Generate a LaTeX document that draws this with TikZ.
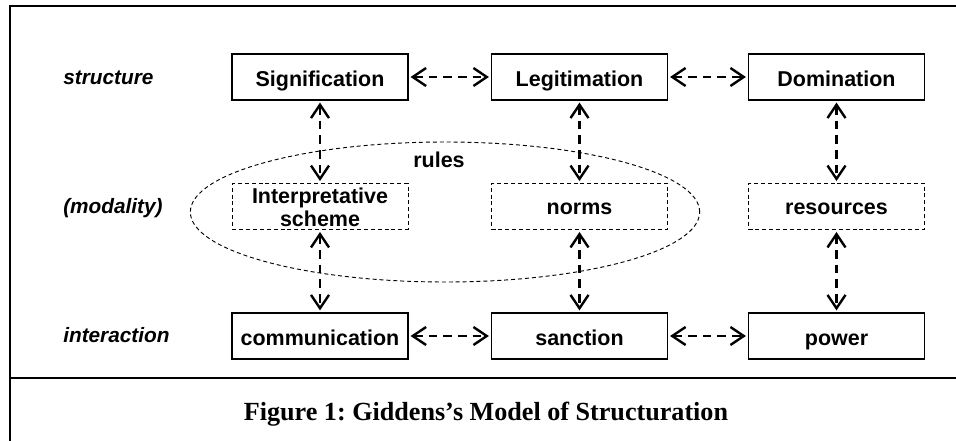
\documentclass[tikz,border=0pt]{standalone}
\usepackage{fontspec}
\setmainfont{Liberation Sans}
\newfontfamily\capfont{Liberation Serif}
\usetikzlibrary{arrows.meta,shapes.geometric}
\frenchspacing
\begin{document}
\begin{tikzpicture}[x=0.75pt,y=-0.75pt,
  boxfont/.style={font=\bfseries\fontsize{16.1}{18}\selectfont},
  boxtext/.style={boxfont, align=center, inner sep=0pt,
                  minimum width=132pt, minimum height=34.5pt},
  solidbox/.style={boxtext, draw, line width=0.9pt, text height=17.5pt, text depth=3.3pt},
  dashbox/.style={boxtext, draw, line width=0.7pt, dash pattern=on 3pt off 2.2pt,
                  text height=15pt, text depth=3.3pt},
  link/.style={line width=1.8pt, dash pattern=on 6.5pt off 4.5pt,
     {Straight Barb[length=10pt,width=13.5pt]}-{Straight Barb[length=10pt,width=13.5pt]},
     shorten <=1.5pt, shorten >=1.5pt},
  rowlabel/.style={anchor=base west, inner sep=0pt, font=\bfseries\itshape\fontsize{15.6}{18}\selectfont},
  frameline/.style={line width=2.2pt}]
\useasboundingbox (0,0) rectangle (956,441);
% frame
\draw[frameline] (956,6) -- (10,6) -- (10,441);
\draw[frameline] (10,378) -- (956,378);
% rules ellipse
\node[ellipse, draw, line width=0.7pt, dash pattern=on 3pt off 2.2pt, inner sep=0pt,
      minimum width=382pt, minimum height=105pt] (rulesell) at (445,212) {};
\node[boxfont, anchor=base, inner sep=0pt] (rules) at (439,168) {rules};
% row labels
\node[rowlabel] (lstructure) at (63,85) {structure};
\node[rowlabel] (lmodality) at (63,214) {(modality)};
\node[rowlabel] (linteraction) at (63,343) {interaction};
% structure row
\node[solidbox] (sig) at (320,77) {Signification};
\node[solidbox] (leg) at (579.5,77) {Legitimation};
\node[solidbox] (dom) at (836.5,77) {Domination};
% modality row
\node[dashbox] (interp) at (320,206.5) {};
\node[boxfont, anchor=base, inner sep=0pt] (interpa) at (320,203.3) {Interpretative};
\node[boxfont, anchor=base, inner sep=0pt] (interpb) at (320,227) {scheme};
\node[dashbox] (norms) at (579.5,206.5) {norms};
\node[dashbox] (res) at (836.5,206.5) {resources};
% interaction row
\node[solidbox] (comm) at (320,336) {communication};
\node[solidbox] (sanc) at (579.5,336) {sanction};
\node[solidbox] (pow) at (836.5,336) {power};
% horizontal links
\draw[link] (sig) -- (leg);
\draw[link] (leg) -- (dom);
\draw[link] (comm) -- (sanc);
\draw[link] (sanc) -- (pow);
% vertical links
\draw[link] (sig) -- (interp);
\draw[link] (interp) -- (comm);
\draw[link] (leg) -- (norms);
\draw[link] (norms) -- (sanc);
\draw[link] (dom) -- (res);
\draw[link] (res) -- (pow);
% caption
\node[font=\capfont\bfseries\fontsize{19.6}{22}\selectfont, inner sep=0pt, anchor=base] (caption) at (486,420)
  {Figure 1: Giddens’s Model of Structuration};
\end{tikzpicture}
\end{document}
